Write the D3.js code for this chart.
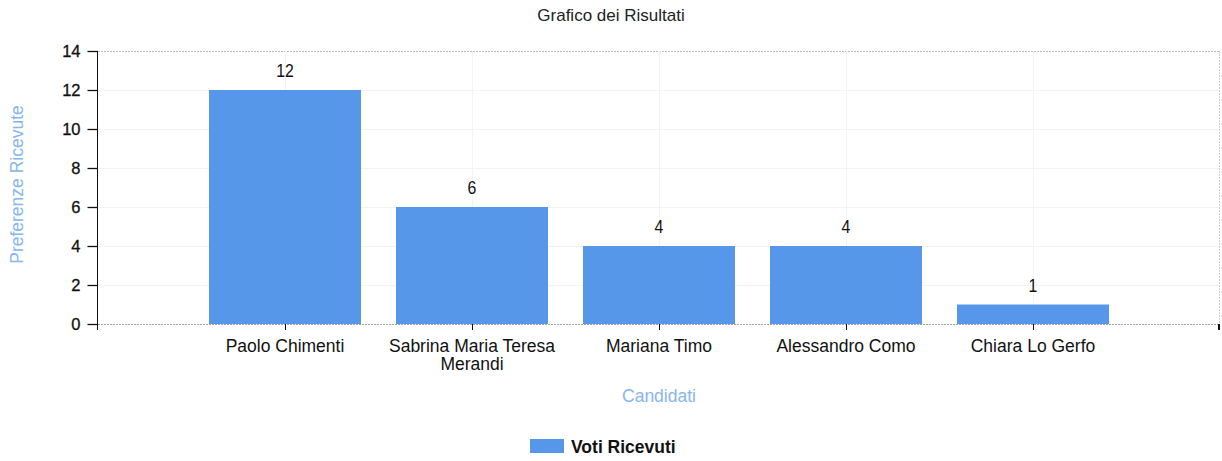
<!DOCTYPE html>
<html>
<head>
<meta charset="utf-8">
<script src="https://cdn.jsdelivr.net/npm/d3@7"></script>
<style>
  body { margin: 0; background: #fff; }
  svg { display: block; }
  text { font-family: Arial, "Liberation Sans", sans-serif; }
</style>
</head>
<body>
<div id="chart"></div>
<script>
// dati del grafico
const candidati = ['Paolo Chimenti', 'Sabrina Maria Teresa|Merandi', 'Mariana Timo', 'Alessandro Como', 'Chiara Lo Gerfo'];
const voti = [12, 6, 4, 4, 1];
const yTicks = [0, 2, 4, 6, 8, 10, 12, 14];

const W = 1222, H = 461;
const plot = { left: 98, right: 1220, top: 51, bottom: 324 };
const barColor = '#5797ea';
const titleBlue = '#86b6ee';

const svg = d3.select('#chart').append('svg').attr('width', W).attr('height', H);

const y = d3.scaleLinear().domain([0, 14]).range([plot.bottom, plot.top]);
// le categorie stanno su 1..n, con uno slot vuoto per lato
const x = d3.scaleLinear().domain([0, candidati.length + 1]).range([plot.left, plot.right]);
const barW = 152;

// griglia leggera
svg.append('g').selectAll('line.h')
    .data(yTicks.slice(1))
    .enter().append('line')
    .attr('x1', plot.left).attr('x2', plot.right)
    .attr('y1', d => y(d) + 0.5).attr('y2', d => y(d) + 0.5)
    .attr('stroke', d => d === 14 ? '#bdbdbd' : '#f3f3f3')
    .attr('stroke-dasharray', d => d === 14 ? '2,1' : null);

svg.append('g').selectAll('line.v')
    .data(candidati)
    .enter().append('line')
    .attr('x1', (d, i) => x(i + 1) + 0.5).attr('x2', (d, i) => x(i + 1) + 0.5)
    .attr('y1', plot.top).attr('y2', plot.bottom)
    .attr('stroke', '#f3f3f3');

// bordo destro
svg.append('line')
    .attr('x1', plot.right - 0.5).attr('x2', plot.right - 0.5)
    .attr('y1', plot.top).attr('y2', plot.bottom)
    .attr('stroke', '#d0d0d0').attr('stroke-dasharray', '2,1');

// barre
svg.append('g').selectAll('rect')
    .data(voti)
    .enter().append('rect')
    .attr('x', (d, i) => x(i + 1) - barW / 2)
    .attr('width', barW)
    .attr('y', d => y(d))
    .attr('height', d => y(0) - y(d))
    .attr('fill', barColor);

// etichette valori
svg.append('g').selectAll('text')
    .data(voti)
    .enter().append('text')
    .attr('transform', (d, i) => `translate(${x(i + 1)},${y(d) - 13}) scale(0.88,1)`)
    .attr('text-anchor', 'middle')
    .attr('font-size', 18)
    .attr('fill', '#111')
    .text(d => d);

// asse x (linea tratteggiata grigia)
svg.append('line')
    .attr('x1', plot.left).attr('x2', plot.right)
    .attr('y1', plot.bottom + 0.5).attr('y2', plot.bottom + 0.5)
    .attr('stroke', '#a0a0a0').attr('stroke-dasharray', '2,1');

svg.append('line')
    .attr('x1', plot.right - 1).attr('x2', plot.right - 1)
    .attr('y1', plot.bottom).attr('y2', plot.bottom + 6)
    .attr('stroke', '#111').attr('stroke-width', 2);

const xg = svg.append('g');
candidati.forEach((c, i) => {
    const cx = x(i + 1);
    xg.append('line')
        .attr('x1', cx + 0.5).attr('x2', cx + 0.5)
        .attr('y1', plot.bottom).attr('y2', plot.bottom + 6)
        .attr('stroke', '#111');
    const t = xg.append('text')
        .attr('x', cx).attr('y', plot.bottom + 28)
        .attr('text-anchor', 'middle')
        .attr('font-size', 17.5)
        .attr('fill', '#111');
    c.split('|').forEach((line, j) => {
        t.append('tspan').attr('x', cx).attr('dy', j === 0 ? 0 : 18).text(line);
    });
});

// asse y
const yAxis = d3.axisLeft(y).tickValues(yTicks).tickSize(10).tickPadding(7);
const yg = svg.append('g')
    .attr('transform', `translate(${plot.left - 0.5},0)`)
    .call(yAxis);
yg.select('.domain').remove();
yg.selectAll('.tick line').attr('stroke', '#111').attr('stroke-width', 1.3);
yg.selectAll('.tick text')
    .attr('font-size', 16.5)
    .attr('font-family', 'Arial, sans-serif')
    .attr('fill', '#111')
    .attr('stroke', '#111')
    .attr('stroke-width', 0.3);
yg.append('line')
    .attr('x1', 0).attr('x2', 0)
    .attr('y1', plot.top).attr('y2', plot.bottom + 6)
    .attr('stroke', '#111');

// titoli
svg.append('text')
    .attr('x', 611).attr('y', 21)
    .attr('text-anchor', 'middle')
    .attr('font-size', 17)
    .attr('fill', '#222')
    .text('Grafico dei Risultati');

svg.append('text')
    .attr('transform', `translate(23,${(plot.top + plot.bottom) / 2 - 3}) rotate(-90)`)
    .attr('text-anchor', 'middle')
    .attr('font-size', 17.5)
    .attr('fill', titleBlue)
    .text('Preferenze Ricevute');

svg.append('text')
    .attr('x', 659).attr('y', 402)
    .attr('text-anchor', 'middle')
    .attr('font-size', 17.5)
    .attr('fill', titleBlue)
    .text('Candidati');

// legenda
const leg = svg.append('g').attr('transform', 'translate(530,439)');
leg.append('rect').attr('width', 34).attr('height', 14).attr('fill', barColor);
leg.append('text')
    .attr('x', 41).attr('y', 14)
    .attr('font-size', 17.5)
    .attr('font-family', '"Open Sans", "Noto Sans", sans-serif')
    .attr('font-weight', 600)
    .attr('fill', '#111')
    .text('Voti Ricevuti');
</script>
</body>
</html>
